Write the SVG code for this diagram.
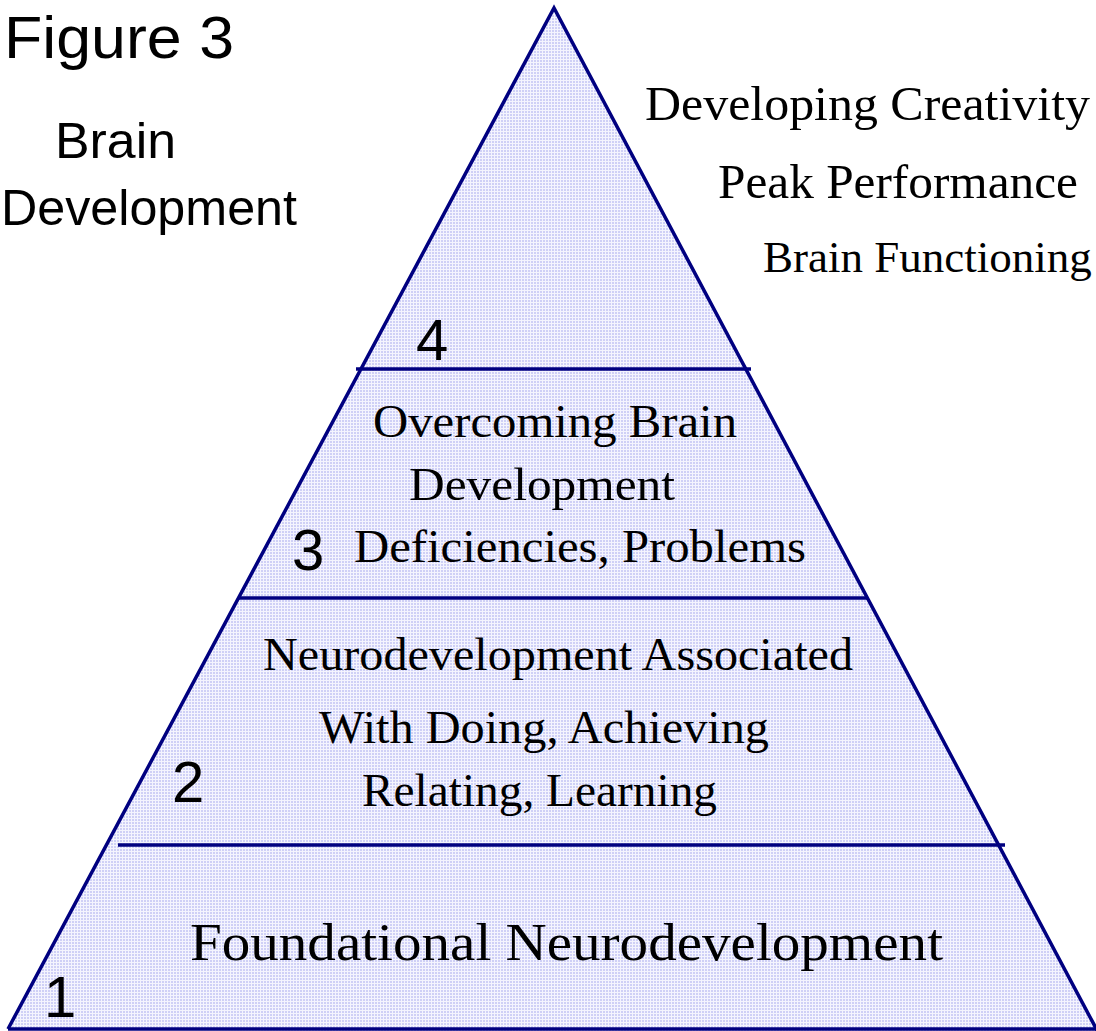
<svg xmlns="http://www.w3.org/2000/svg" width="1096" height="1031" viewBox="0 0 1096 1031">
<style>
.sans{font-family:"Liberation Sans",Arial,sans-serif;fill:#000}
.serif{font-family:"Liberation Serif","Times New Roman",serif;fill:#000}
.num{font-family:"Liberation Sans",Arial,sans-serif;fill:#000;font-size:58px}
.edge{stroke:#000080;stroke-width:3.5;fill:none}
</style>
<defs>
<pattern id="dots" width="3" height="3" patternUnits="userSpaceOnUse">
<rect width="3" height="3" fill="#f4f4fe"/>
<rect width="2" height="2" fill="#cfd0f6"/>
</pattern>
</defs>
<rect width="1096" height="1031" fill="#fff"/>
<g id="pyramid">
<polygon points="554,8 8,1029 1100,1036" fill="url(#dots)" stroke="none"/>
<polyline class="edge" points="8,1029 554,8 1099,1034"/>
<line class="edge" x1="8" y1="1029" x2="1096" y2="1029"/>
</g>
<g id="connectors">
<line class="edge" x1="356" y1="369" x2="751" y2="369"/>
<line class="edge" x1="238" y1="598" x2="868" y2="598"/>
<line class="edge" x1="118" y1="845" x2="1005" y2="845"/>
</g>
<g id="title">
<text class="sans" x="4" y="58" font-size="60" textLength="230" lengthAdjust="spacingAndGlyphs">Figure 3</text>
<text class="sans" x="55" y="158" font-size="50" textLength="121" lengthAdjust="spacingAndGlyphs">Brain</text>
<text class="sans" x="1" y="225" font-size="50" textLength="296" lengthAdjust="spacingAndGlyphs">Development</text>
</g>
<g id="level4">
<text class="num" x="416" y="360">4</text>
<text class="serif" x="645" y="120" font-size="48" textLength="445" lengthAdjust="spacingAndGlyphs">Developing Creativity</text>
<text class="serif" x="718" y="198" font-size="48" textLength="360" lengthAdjust="spacingAndGlyphs">Peak Performance</text>
<text class="serif" x="763" y="272" font-size="45">Brain Functioning</text>
</g>
<g id="level3">
<text class="num" x="292" y="570">3</text>
<text class="serif" x="373" y="437" font-size="47" textLength="364" lengthAdjust="spacingAndGlyphs">Overcoming Brain</text>
<text class="serif" x="409" y="500" font-size="47" textLength="266" lengthAdjust="spacingAndGlyphs">Development</text>
<text class="serif" x="354" y="562" font-size="47" textLength="452" lengthAdjust="spacingAndGlyphs">Deficiencies, Problems</text>
</g>
<g id="level2">
<text class="num" x="172" y="802">2</text>
<text class="serif" x="263" y="670" font-size="47" textLength="590" lengthAdjust="spacingAndGlyphs">Neurodevelopment Associated</text>
<text class="serif" x="319" y="743" font-size="47" textLength="450" lengthAdjust="spacingAndGlyphs">With Doing, Achieving</text>
<text class="serif" x="362" y="806" font-size="47" textLength="355" lengthAdjust="spacingAndGlyphs">Relating, Learning</text>
</g>
<g id="level1">
<text class="num" x="44" y="1017">1</text>
<text class="serif" x="190" y="960" font-size="52" textLength="753" lengthAdjust="spacingAndGlyphs">Foundational Neurodevelopment</text>
</g>
</svg>
